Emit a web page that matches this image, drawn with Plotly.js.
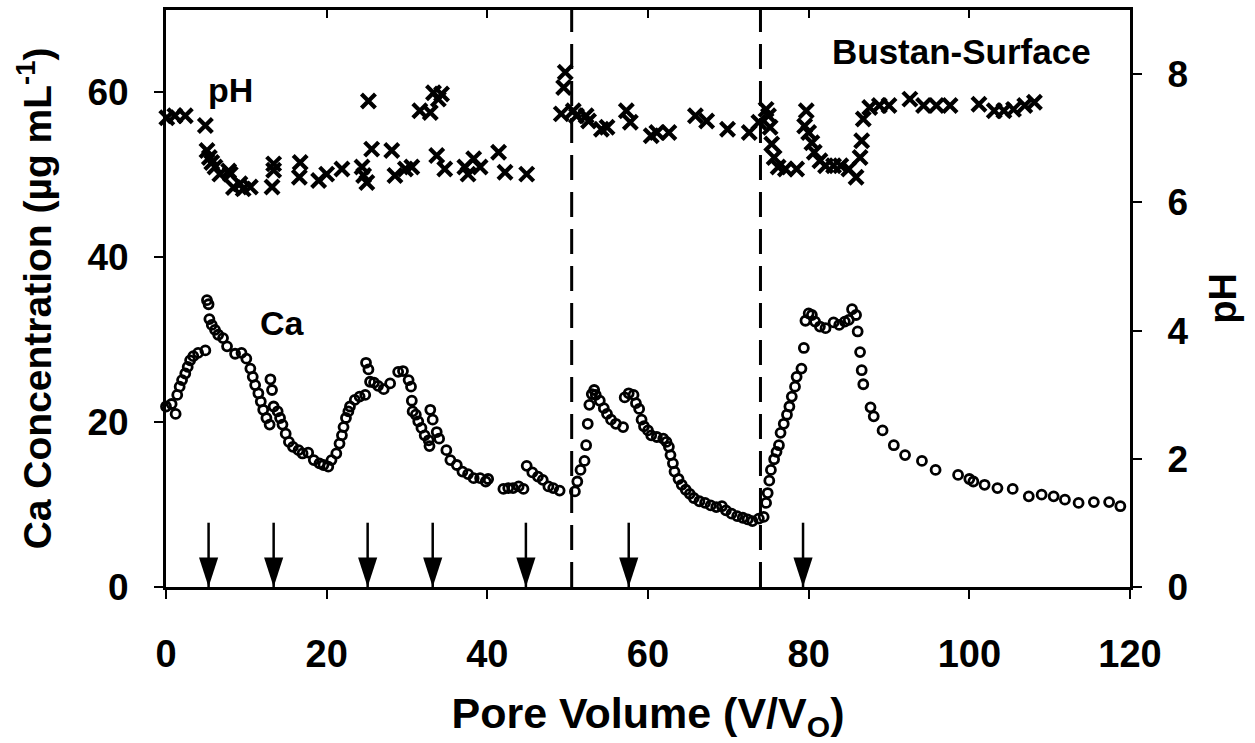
<!DOCTYPE html>
<html>
<head>
<meta charset="utf-8">
<script src="https://cdn.plot.ly/plotly-3.0.1.min.js"></script>
<style>html,body{margin:0;padding:0;background:#fff;}#chart{width:1255px;height:743px;}</style>
</head>
<body>
<div id="chart"></div>
<script>
// Ca concentration (µg/mL) vs pore volume
const caX = [0.0,0.7,1.2,1.4,1.7,2.0,2.4,2.7,3.0,3.4,4.0,4.9,5.1,5.3,5.4,5.7,6.1,6.5,7.1,7.6,8.6,9.4,10.0,10.5,10.8,11.1,11.5,11.8,12.1,12.5,12.9,13.0,13.2,13.4,13.9,14.2,14.5,14.9,15.3,15.8,16.5,17.0,17.7,18.4,19.1,19.6,20.2,20.6,21.2,21.6,21.9,22.1,22.4,22.7,22.9,23.5,24.1,24.8,24.9,25.2,25.4,25.9,26.4,27.1,27.9,28.9,29.5,30.2,30.5,30.6,30.7,31.1,31.4,31.8,32.2,32.7,32.8,32.9,33.2,33.7,34.0,34.9,35.4,36.2,36.9,37.6,38.3,39.1,39.8,40.1,42.0,42.6,43.2,43.9,44.5,44.9,45.6,46.3,46.9,47.6,48.2,49.0,50.9,51.2,51.6,52.1,52.3,52.5,52.7,53.0,53.3,53.5,54.0,54.5,54.9,55.4,56.0,56.9,57.1,57.6,58.2,58.5,58.9,59.2,59.5,60.0,60.4,61.1,61.9,62.3,62.6,62.8,63.1,63.3,63.8,64.2,64.7,65.2,65.7,66.4,67.1,67.8,68.5,69.2,69.7,70.4,71.1,71.8,72.4,73.0,73.8,74.4,74.7,74.9,75.1,75.3,75.7,76.0,76.3,76.5,76.9,77.3,77.6,77.9,78.3,78.5,79.1,79.4,79.6,80.0,80.4,80.8,81.4,82.1,83.1,83.8,84.5,85.0,85.4,85.9,86.1,86.4,86.6,86.8,87.7,88.1,89.2,90.6,92.0,94.1,95.8,98.6,100.0,100.5,101.9,103.5,105.4,107.4,109.0,110.5,111.9,113.6,115.5,117.4,118.8];
const caY = [21.9,22.2,21.0,23.3,24.3,25.1,25.9,26.7,27.5,28.0,28.4,28.7,34.8,34.3,32.5,31.8,31.2,30.6,30.2,29.2,28.3,28.4,27.7,26.5,25.5,24.5,23.5,22.5,21.5,20.5,19.7,25.2,23.9,21.9,21.3,20.5,19.7,18.6,17.6,17.0,16.6,16.2,16.3,15.4,15.0,14.8,14.6,15.4,16.2,17.4,18.4,19.4,20.5,21.3,21.9,22.7,23.1,23.3,27.2,26.4,24.9,24.8,24.4,24.0,24.7,26.1,26.2,25.1,24.3,22.6,21.3,20.9,20.1,19.3,18.4,17.8,17.1,21.5,20.3,18.8,18.0,16.6,15.4,14.8,14.0,13.7,13.2,13.2,12.8,13.1,11.9,12.0,12.0,12.2,11.9,14.7,13.9,13.4,13.0,12.2,12.0,11.7,11.6,12.8,14.2,15.3,17.2,19.8,22.1,23.4,23.9,23.3,22.6,21.7,21.0,20.3,19.8,19.4,23.0,23.5,23.3,22.3,21.6,20.3,19.5,19.0,18.4,18.2,18.0,17.6,17.0,16.0,15.0,14.0,13.1,12.4,11.8,11.3,10.8,10.4,10.2,9.9,9.7,9.8,9.3,8.9,8.6,8.4,8.2,8.0,8.3,8.5,10.2,11.4,12.9,14.2,15.5,16.4,17.2,18.7,19.8,20.9,21.9,23.1,24.3,25.5,26.5,29.0,32.3,33.2,33.0,32.2,31.6,31.4,32.1,31.8,32.2,32.4,33.7,33.0,31.0,28.5,26.3,24.6,21.8,20.7,19.0,17.2,16.0,15.3,14.2,13.6,13.1,12.8,12.4,12.0,11.9,11.0,11.2,11.0,10.6,10.2,10.3,10.3,9.8];

// pH vs pore volume
const phX = [0.1,1.1,2.4,4.9,5.1,5.4,5.7,6.1,6.7,7.8,8.0,8.4,9.2,9.6,10.5,13.2,13.4,13.4,16.6,16.7,19.0,20.0,21.9,24.4,24.6,25.0,25.2,25.6,28.1,28.5,29.8,30.6,31.6,32.9,33.3,33.7,33.9,34.3,34.7,37.2,37.6,38.3,39.1,41.4,42.2,44.9,49.2,49.5,49.7,50.7,51.1,52.3,52.6,54.2,54.9,57.3,57.8,60.4,61.1,62.6,65.9,67.3,69.9,72.6,73.8,74.7,75.0,75.2,75.4,75.7,76.2,77.1,78.5,79.5,79.7,80.0,80.4,80.7,81.4,82.1,83.1,84.0,85.0,85.9,86.4,86.6,86.8,87.6,88.8,90.0,92.6,94.3,95.9,97.6,101.2,103.1,104.3,105.5,106.9,108.1];
const phY = [7.32,7.35,7.35,7.20,6.81,6.70,6.62,6.55,6.44,6.49,6.44,6.23,6.29,6.21,6.24,6.24,6.50,6.60,6.39,6.62,6.34,6.44,6.52,6.55,6.42,6.31,7.58,6.83,6.81,6.42,6.52,6.55,7.43,7.40,7.71,6.73,7.61,7.69,6.52,6.55,6.44,6.68,6.55,6.78,6.47,6.44,7.38,7.79,8.03,7.43,7.35,7.35,7.27,7.14,7.17,7.43,7.25,7.04,7.09,7.09,7.35,7.27,7.14,7.09,7.25,7.45,7.35,7.17,6.91,6.70,6.55,6.52,6.52,7.19,7.43,7.09,6.93,6.78,6.65,6.57,6.57,6.57,6.52,6.39,6.70,6.96,7.30,7.48,7.51,7.51,7.61,7.51,7.51,7.51,7.53,7.43,7.43,7.45,7.51,7.56];

// event markers (arrows) and solution-change lines
const arrowX = [5.3, 13.4, 25.1, 33.2, 44.8, 57.6, 79.3];
const arrowTop = 7.8;
const dividerX = [50.5, 74.0];

const xTicks = [0, 20, 40, 60, 80, 100, 120];
const caTicks = [0, 20, 40, 60];
const phTicks = [0, 2, 4, 6, 8];

const FONT = 'Liberation Sans, Arial, Helvetica, sans-serif';
const bold = (s) => ({family: FONT, size: s, color: '#000', weight: 'bold'});

// arrow stems
const stemX = [], stemY = [];
arrowX.forEach(v => { stemX.push(v, v, null); stemY.push(arrowTop, 0, null); });

const traces = [
  {x: stemX, y: stemY, mode: 'lines', line: {color: '#000', width: 2.5}, hoverinfo: 'skip', showlegend: false, cliponaxis: false},
  {x: arrowX, y: arrowX.map(() => 0), mode: 'markers', cliponaxis: false, showlegend: false,
   marker: {symbol: 'arrow', angle: 180, size: 31, color: '#000', line: {width: 0}}},
  {x: caX, y: caY, name: 'Ca', mode: 'markers', showlegend: false, cliponaxis: false,
   marker: {symbol: 'circle-open', size: 9, color: '#000', line: {color: '#000', width: 2.8}}},
  {x: phX, y: phY, name: 'pH', yaxis: 'y2', mode: 'markers', showlegend: false, cliponaxis: false,
   marker: {symbol: 'x-thin-open', size: 14, color: '#000', line: {color: '#000', width: 4.2}}},
  {x: [], y: [], xaxis: 'x2', mode: 'markers', showlegend: false, hoverinfo: 'skip'}
];

const shapes = dividerX.map(v => ({
  type: 'line', xref: 'x', yref: 'paper', x0: v, x1: v, y0: 0, y1: 1,
  line: {color: '#000', width: 3, dash: '25px,12px'}
}));

const layout = {
  width: 1255, height: 743,
  margin: {l: 166, r: 125, t: 10, b: 156},
  paper_bgcolor: '#fff', plot_bgcolor: '#fff',
  font: bold(34),
  showlegend: false,
  xaxis: {
    range: [0, 120], tickvals: xTicks, ticktext: xTicks.map(String),
    ticks: 'outside', ticklen: 9, tickwidth: 2, tickcolor: '#000',
    showline: true, linewidth: 3, linecolor: '#000', mirror: true,
    showgrid: false, zeroline: false,
    tickfont: bold(38), ticklabelstandoff: 22,
    title: {text: 'Pore Volume (V/V<sub>O</sub>)', font: bold(43), standoff: 32}
  },
  xaxis2: {
    overlaying: 'x', side: 'top', anchor: 'y', range: [0, 120], tickvals: xTicks,
    ticks: 'inside', ticklen: 8, tickwidth: 2, tickcolor: '#000',
    showticklabels: false, showline: false, showgrid: false, zeroline: false
  },
  yaxis: {
    range: [0, 70], tickvals: caTicks, ticktext: caTicks.map(String),
    ticks: 'outside', ticklen: 9, tickwidth: 2, tickcolor: '#000',
    showline: true, linewidth: 3, linecolor: '#000',
    showgrid: false, zeroline: false,
    tickfont: bold(37), ticklabelstandoff: 18,
    title: {text: 'Ca Concentration (µg mL<sup>-1</sup>)', font: bold(39), standoff: 24}
  },
  yaxis2: {
    overlaying: 'y', side: 'right', range: [0, 9], tickvals: phTicks, ticktext: phTicks.map(String),
    ticks: 'outside', ticklen: 9, tickwidth: 2, tickcolor: '#000',
    showline: true, linewidth: 3, linecolor: '#000',
    showgrid: false, zeroline: false,
    tickfont: bold(37), ticklabelstandoff: 18,
    title: {text: 'pH', font: bold(38), standoff: 22}
  },
  shapes: shapes,
  annotations: [
    {text: 'pH', x: 8.0, y: 60.3, xref: 'x', yref: 'y', showarrow: false, font: bold(34), xanchor: 'center', yanchor: 'middle'},
    {text: 'Ca', x: 14.5, y: 32.0, xref: 'x', yref: 'y', showarrow: false, font: bold(34), xanchor: 'center', yanchor: 'middle'},
    {text: 'Bustan-Surface', x: 99.0, y: 65.0, xref: 'x', yref: 'y', showarrow: false, font: bold(35), xanchor: 'center', yanchor: 'middle'}
  ]
};

Plotly.newPlot('chart', traces, layout, {displayModeBar: false, staticPlot: true});
</script>
</body>
</html>
